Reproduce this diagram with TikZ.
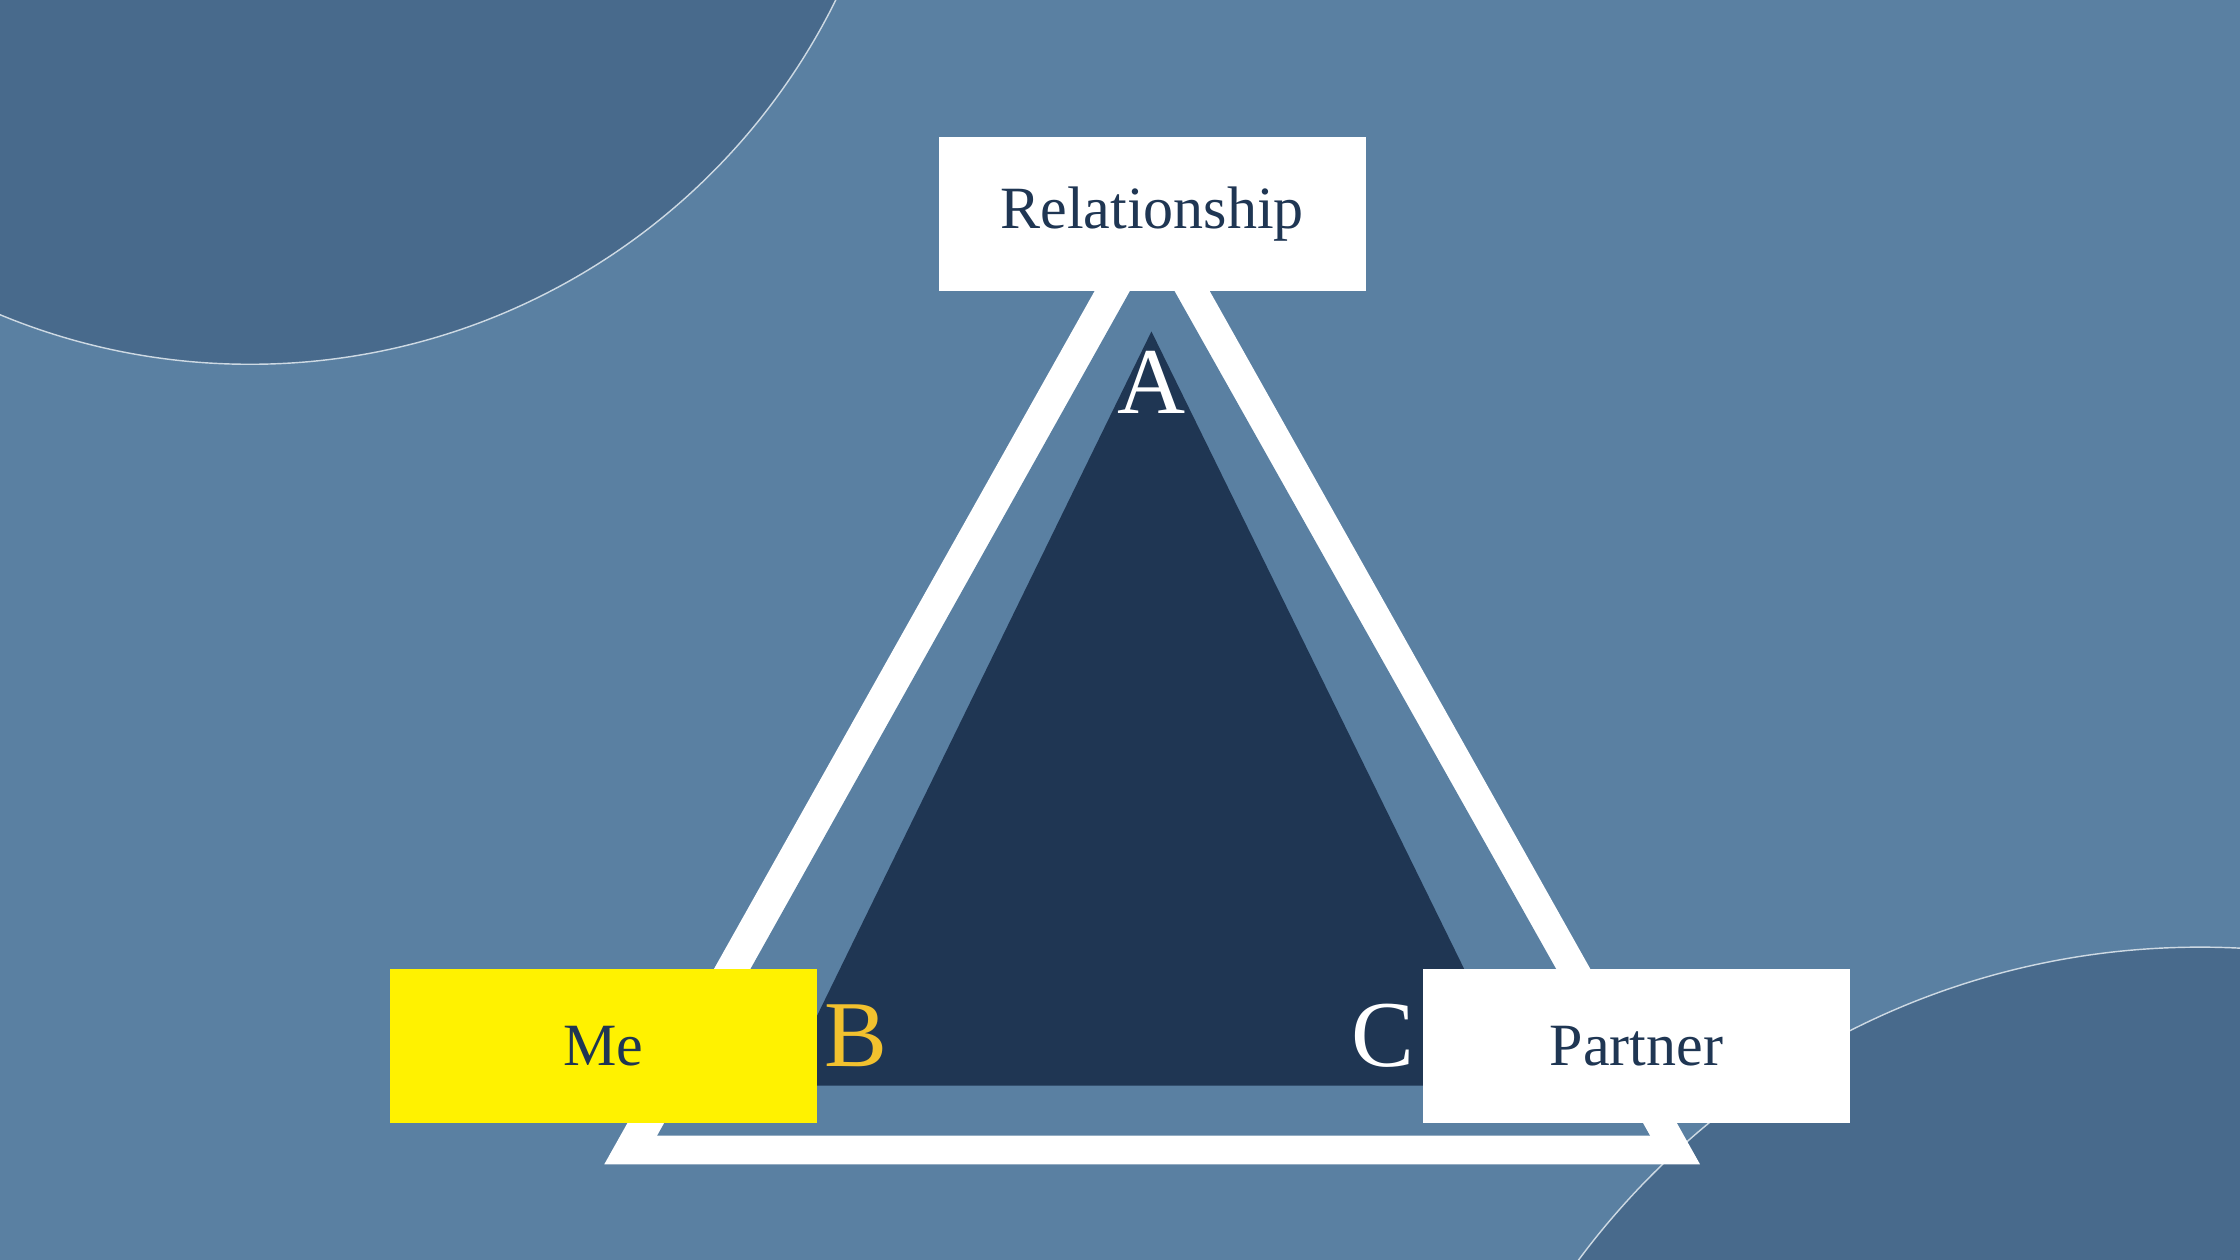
\documentclass[tikz,border=0pt]{standalone}
\usepackage{fontspec}
\setmainfont{Liberation Serif}
\definecolor{bg}{HTML}{5A80A2}
\definecolor{dk}{HTML}{486A8C}
\definecolor{navy}{HTML}{1F3653}
\definecolor{yel}{HTML}{FFF200}
\definecolor{gold}{HTML}{F2C12E}
\tikzset{box/.style={minimum width=299pt,minimum height=108pt,inner sep=0pt,text=navy,font=\fontsize{42}{50}\selectfont},
letter/.style={font=\fontsize{66}{70}\selectfont}}
\begin{document}
\begin{tikzpicture}[x=1pt,y=-1pt]
\useasboundingbox (0,0) rectangle (1568,882);
\clip (0,0) rectangle (1568,882);
\fill[bg] (0,0) rectangle (1568,882);
\fill[dk,draw=white!70!bg,line width=1pt] (175,-202) circle (457);
\fill[dk,draw=white!70!bg,line width=1pt] (1540,1204.5) circle (541.5);
\fill[white] (423,815) -- (806.5,132) -- (1190,815) -- cycle;
\fill[bg] (460,795) -- (806.5,176) -- (1155,795) -- cycle;
\fill[navy] (548,760) -- (806,232) -- (1065,760) -- cycle;
\node[box,fill=white] (rel) at (806.5,150) {Relationship};
\node[box,fill=yel] (me) at (422.5,732) {Me};
\node[box,fill=white] (pa) at (1145.5,732) {Partner};
\node[letter,text=white] (a) at (806,268) {A};
\node[letter,text=gold] (b) at (599,725) {B};
\node[letter,text=white] (c) at (968,725) {C};
\end{tikzpicture}
\end{document}
